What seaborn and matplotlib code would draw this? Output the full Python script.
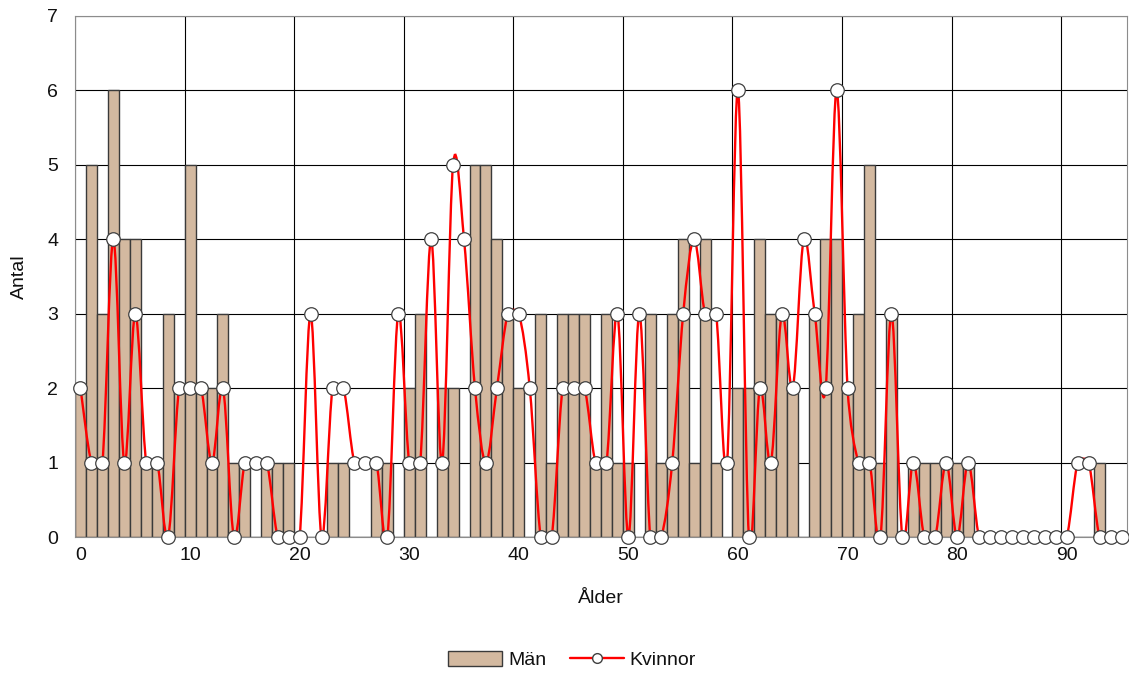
import numpy as np
import seaborn as sns
import matplotlib.pyplot as plt
from matplotlib.path import Path
from matplotlib.patches import PathPatch, Patch
from matplotlib.lines import Line2D

ages = list(range(96))
man = [2, 5, 3, 6, 4, 4, 1, 1, 3, 2,
       5, 2, 2, 3, 1, 1, 0, 1, 1, 1,
       0, 0, 0, 1, 1, 0, 0, 1, 1, 0,
       2, 3, 0, 2, 2, 0, 5, 5, 4, 3,
       2, 0, 3, 1, 3, 3, 3, 1, 3, 1,
       1, 0, 3, 1, 3, 4, 1, 4, 1, 0,
       2, 2, 4, 3, 3, 2, 0, 3, 4, 4,
       2, 3, 5, 1, 3, 0, 1, 1, 1, 1,
       1, 1, 0, 0, 0, 0, 0, 0, 0, 0,
       0, 0, 0, 1, 0, 0]
kvinnor = [2, 1, 1, 4, 1, 3, 1, 1, 0, 2,
           2, 2, 1, 2, 0, 1, 1, 1, 0, 0,
           0, 3, 0, 2, 2, 1, 1, 1, 0, 3,
           1, 1, 4, 1, 5, 4, 2, 1, 2, 3,
           3, 2, 0, 0, 2, 2, 2, 1, 1, 3,
           0, 3, 0, 0, 1, 3, 4, 3, 3, 1,
           6, 0, 2, 1, 3, 2, 4, 3, 2, 6,
           2, 1, 1, 0, 3, 0, 1, 0, 0, 1,
           0, 1, 0, 0, 0, 0, 0, 0, 0, 0,
           0, 1, 1, 0, 0, 0]
x_ticks = [0, 10, 20, 30, 40, 50, 60, 70, 80, 90]
y_ticks = [0, 1, 2, 3, 4, 5, 6, 7]

BAR = '#d3b9a0'
EDGE = '#3a3a3a'
AXIS = '#8c8c8c'
TEXT = '#111111'

# pixels per data unit on screen (plot area 1052 x 521 px, 96 x 7 units)
SX = 1052 / 96
SY = 521 / 7


def smooth_path(xs, ys):
    # Excel-like smoothed line: Bezier arms of 1/6 of the neighbour chord,
    # limited to half of the adjacent segment (worked out in screen pixels)
    pts = np.column_stack([np.asarray(xs) * SX, np.asarray(ys) * SY]).astype(float)
    n = len(pts)
    arm_in = np.zeros_like(pts)
    arm_out = np.zeros_like(pts)
    for i in range(n):
        p0 = pts[max(i - 1, 0)]
        p2 = pts[min(i + 1, n - 1)]
        t = p2 - p0
        d02 = np.hypot(*t)
        if d02 == 0:
            continue
        u = t / d02
        d01 = np.hypot(*(pts[i] - p0))
        d12 = np.hypot(*(p2 - pts[i]))
        arm_in[i] = -u * min(d02 / 6, d01 / 2)
        arm_out[i] = u * min(d02 / 6, d12 / 2)
    verts = [pts[0]]
    codes = [Path.MOVETO]
    for i in range(n - 1):
        verts += [pts[i] + arm_out[i], pts[i + 1] + arm_in[i + 1], pts[i + 1]]
        codes += [Path.CURVE4] * 3
    verts = np.array(verts) / [SX, SY]
    return Path(verts, codes)


sns.set_style('white')
plt.rcParams['font.family'] = ['Liberation Sans', 'DejaVu Sans']
plt.rcParams['text.color'] = TEXT
plt.rcParams['axes.labelcolor'] = TEXT
plt.rcParams['xtick.color'] = TEXT
plt.rcParams['ytick.color'] = TEXT

fig = plt.figure(figsize=(11.29, 6.73), dpi=100)
ax = fig.add_axes([75 / 1129, 136 / 673, 1052 / 1129, 521 / 673])

sns.barplot(x=ages, y=man, color=BAR, saturation=1, width=1.0,
            edgecolor=EDGE, linewidth=1.0, ax=ax, zorder=2)

ax.add_patch(PathPatch(smooth_path(ages, kvinnor), fill=False,
                       edgecolor='#ff0000', lw=1.7, zorder=3))
sns.scatterplot(x=ages, y=kvinnor, s=95, color='white', edgecolor='#404040',
                linewidth=0.9, zorder=4, clip_on=False, ax=ax)

ax.set_xlim(-0.5, 95.5)
ax.set_ylim(0, 7)
ax.set_yticks(y_ticks)
ax.set_xticks(x_ticks)
ax.set_xticklabels([str(t) for t in x_ticks])
ax.set_xticks(np.arange(-0.5, 96, 10), minor=True)

ax.set_axisbelow(True)
ax.grid(False)
ax.grid(axis='y', which='major', color='black', lw=0.8)
ax.grid(axis='x', which='minor', color='black', lw=0.8)

ax.tick_params(axis='x', which='major', length=0, pad=7, labelsize=14)
ax.tick_params(axis='x', which='minor', length=5, color=AXIS, width=0.8)
ax.tick_params(axis='y', length=5, color=AXIS, width=0.8, pad=7, labelsize=14)

for side in ['left', 'bottom', 'right', 'top']:
    ax.spines[side].set_color(AXIS)
    ax.spines[side].set_linewidth(0.8)

ax.set_xlabel('Ålder', fontsize=14, labelpad=19)
ax.set_ylabel('Antal', fontsize=14, labelpad=14)

handles = [Patch(facecolor=BAR, edgecolor=EDGE, linewidth=1.0),
           Line2D([], [], color='#ff0000', lw=1.7, marker='o', ms=7,
                  markerfacecolor='white', markeredgecolor='#404040')]
fig.legend(handles, ['Män', 'Kvinnor'], loc='center', ncol=2,
           bbox_to_anchor=(572 / 1129, 1 - 660 / 673), frameon=False,
           fontsize=14, handlelength=2.8, handleheight=0.8,
           handletextpad=0.3, columnspacing=1.2)

fig.savefig('out.png', dpi=100)
